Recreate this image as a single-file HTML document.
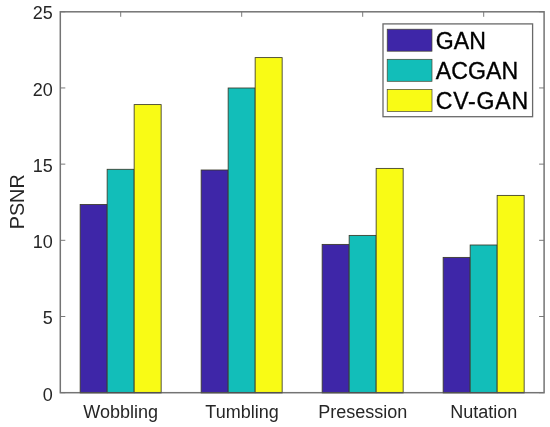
<!DOCTYPE html>
<html lang="en">
<head>
<meta charset="utf-8">
<title>PSNR comparison</title>
<style>
html,body{margin:0;padding:0;background:#fff;}
body{width:550px;height:427px;overflow:hidden;}
svg{display:block;}
text{font-family:"Liberation Sans",Arial,Helvetica,sans-serif;fill:#262626;}
.tick{font-size:18px;}
.leg{font-size:23.1px;fill:#000;stroke:#000;stroke-width:0.35px;}
.ylab{font-size:19.8px;}
</style>
</head>
<body>
<svg width="550" height="427" viewBox="0 0 550 427">
<rect x="0" y="0" width="550" height="427" fill="#ffffff"/>

<g stroke="#7a7a7a" stroke-width="1" fill="none">
<line x1="120.7" y1="11.8" x2="120.7" y2="16.8"/>
<line x1="120.7" y1="392.7" x2="120.7" y2="387.7"/>
<line x1="241.7" y1="11.8" x2="241.7" y2="16.8"/>
<line x1="241.7" y1="392.7" x2="241.7" y2="387.7"/>
<line x1="362.7" y1="11.8" x2="362.7" y2="16.8"/>
<line x1="362.7" y1="392.7" x2="362.7" y2="387.7"/>
<line x1="483.7" y1="11.8" x2="483.7" y2="16.8"/>
<line x1="483.7" y1="392.7" x2="483.7" y2="387.7"/>
<line x1="60.3" y1="392.70" x2="65.3" y2="392.70"/>
<line x1="544.1" y1="392.70" x2="539.1" y2="392.70"/>
<line x1="60.3" y1="316.51" x2="65.3" y2="316.51"/>
<line x1="544.1" y1="316.51" x2="539.1" y2="316.51"/>
<line x1="60.3" y1="240.32" x2="65.3" y2="240.32"/>
<line x1="544.1" y1="240.32" x2="539.1" y2="240.32"/>
<line x1="60.3" y1="164.13" x2="65.3" y2="164.13"/>
<line x1="544.1" y1="164.13" x2="539.1" y2="164.13"/>
<line x1="60.3" y1="87.94" x2="65.3" y2="87.94"/>
<line x1="544.1" y1="87.94" x2="539.1" y2="87.94"/>
<line x1="60.3" y1="11.75" x2="65.3" y2="11.75"/>
<line x1="544.1" y1="11.75" x2="539.1" y2="11.75"/>
</g>
<g stroke="#3a3a28" stroke-width="0.85">
<rect x="80.15" y="204.50" width="27.00" height="188.20" fill="#3e26a8"/>
<rect x="107.15" y="169.30" width="27.00" height="223.40" fill="#12beb9"/>
<rect x="134.15" y="104.60" width="27.00" height="288.10" fill="#f9fb15"/>
<rect x="201.15" y="170.00" width="27.00" height="222.70" fill="#3e26a8"/>
<rect x="228.15" y="88.00" width="27.00" height="304.70" fill="#12beb9"/>
<rect x="255.15" y="57.60" width="27.00" height="335.10" fill="#f9fb15"/>
<rect x="322.15" y="244.40" width="27.00" height="148.30" fill="#3e26a8"/>
<rect x="349.15" y="235.40" width="27.00" height="157.30" fill="#12beb9"/>
<rect x="376.15" y="168.40" width="27.00" height="224.30" fill="#f9fb15"/>
<rect x="443.15" y="257.40" width="27.00" height="135.30" fill="#3e26a8"/>
<rect x="470.15" y="245.00" width="27.00" height="147.70" fill="#12beb9"/>
<rect x="497.15" y="195.40" width="27.00" height="197.30" fill="#f9fb15"/>
</g>
<rect x="60.3" y="11.8" width="483.8" height="380.9" fill="none" stroke="#747474" stroke-width="1.5"/>
<line x1="79.75" y1="392.70" x2="161.55" y2="392.70" stroke="#000" stroke-opacity="0.3" stroke-width="1.5"/>
<line x1="200.75" y1="392.70" x2="282.55" y2="392.70" stroke="#000" stroke-opacity="0.3" stroke-width="1.5"/>
<line x1="321.75" y1="392.70" x2="403.55" y2="392.70" stroke="#000" stroke-opacity="0.3" stroke-width="1.5"/>
<line x1="442.75" y1="392.70" x2="524.55" y2="392.70" stroke="#000" stroke-opacity="0.3" stroke-width="1.5"/>
<text class="tick" x="52.7" y="400.60" text-anchor="end">0</text>
<text class="tick" x="52.7" y="324.11" text-anchor="end">5</text>
<text class="tick" x="52.7" y="247.92" text-anchor="end">10</text>
<text class="tick" x="52.7" y="171.73" text-anchor="end">15</text>
<text class="tick" x="52.7" y="95.54" text-anchor="end">20</text>
<text class="tick" x="52.7" y="19.35" text-anchor="end">25</text>
<text class="tick" x="120.7" y="418.0" text-anchor="middle">Wobbling</text>
<text class="tick" x="242.0" y="418.0" text-anchor="middle">Tumbling</text>
<text class="tick" x="362.7" y="418.0" text-anchor="middle">Presession</text>
<text class="tick" x="483.7" y="418.0" text-anchor="middle">Nutation</text>
<text class="ylab" transform="translate(24.3,201.8) rotate(-90)" text-anchor="middle">PSNR</text>
<rect x="383.0" y="23.9" width="149.6" height="92.8" fill="#ffffff" stroke="#696969" stroke-width="1.3"/>
<rect x="387.2" y="29.20" width="44.8" height="22" fill="#3e26a8" stroke="#45452f" stroke-width="0.7"/>
<text class="leg" x="435.7" y="49.10" letter-spacing="0.1">GAN</text>
<rect x="387.2" y="59.30" width="44.8" height="22" fill="#12beb9" stroke="#45452f" stroke-width="0.7"/>
<text class="leg" x="435.7" y="79.30" letter-spacing="0.1">ACGAN</text>
<rect x="387.2" y="89.40" width="44.8" height="22" fill="#f9fb15" stroke="#45452f" stroke-width="0.7"/>
<text class="leg" x="435.7" y="108.90" letter-spacing="0.8">CV-GAN</text>
</svg>
</body>
</html>
